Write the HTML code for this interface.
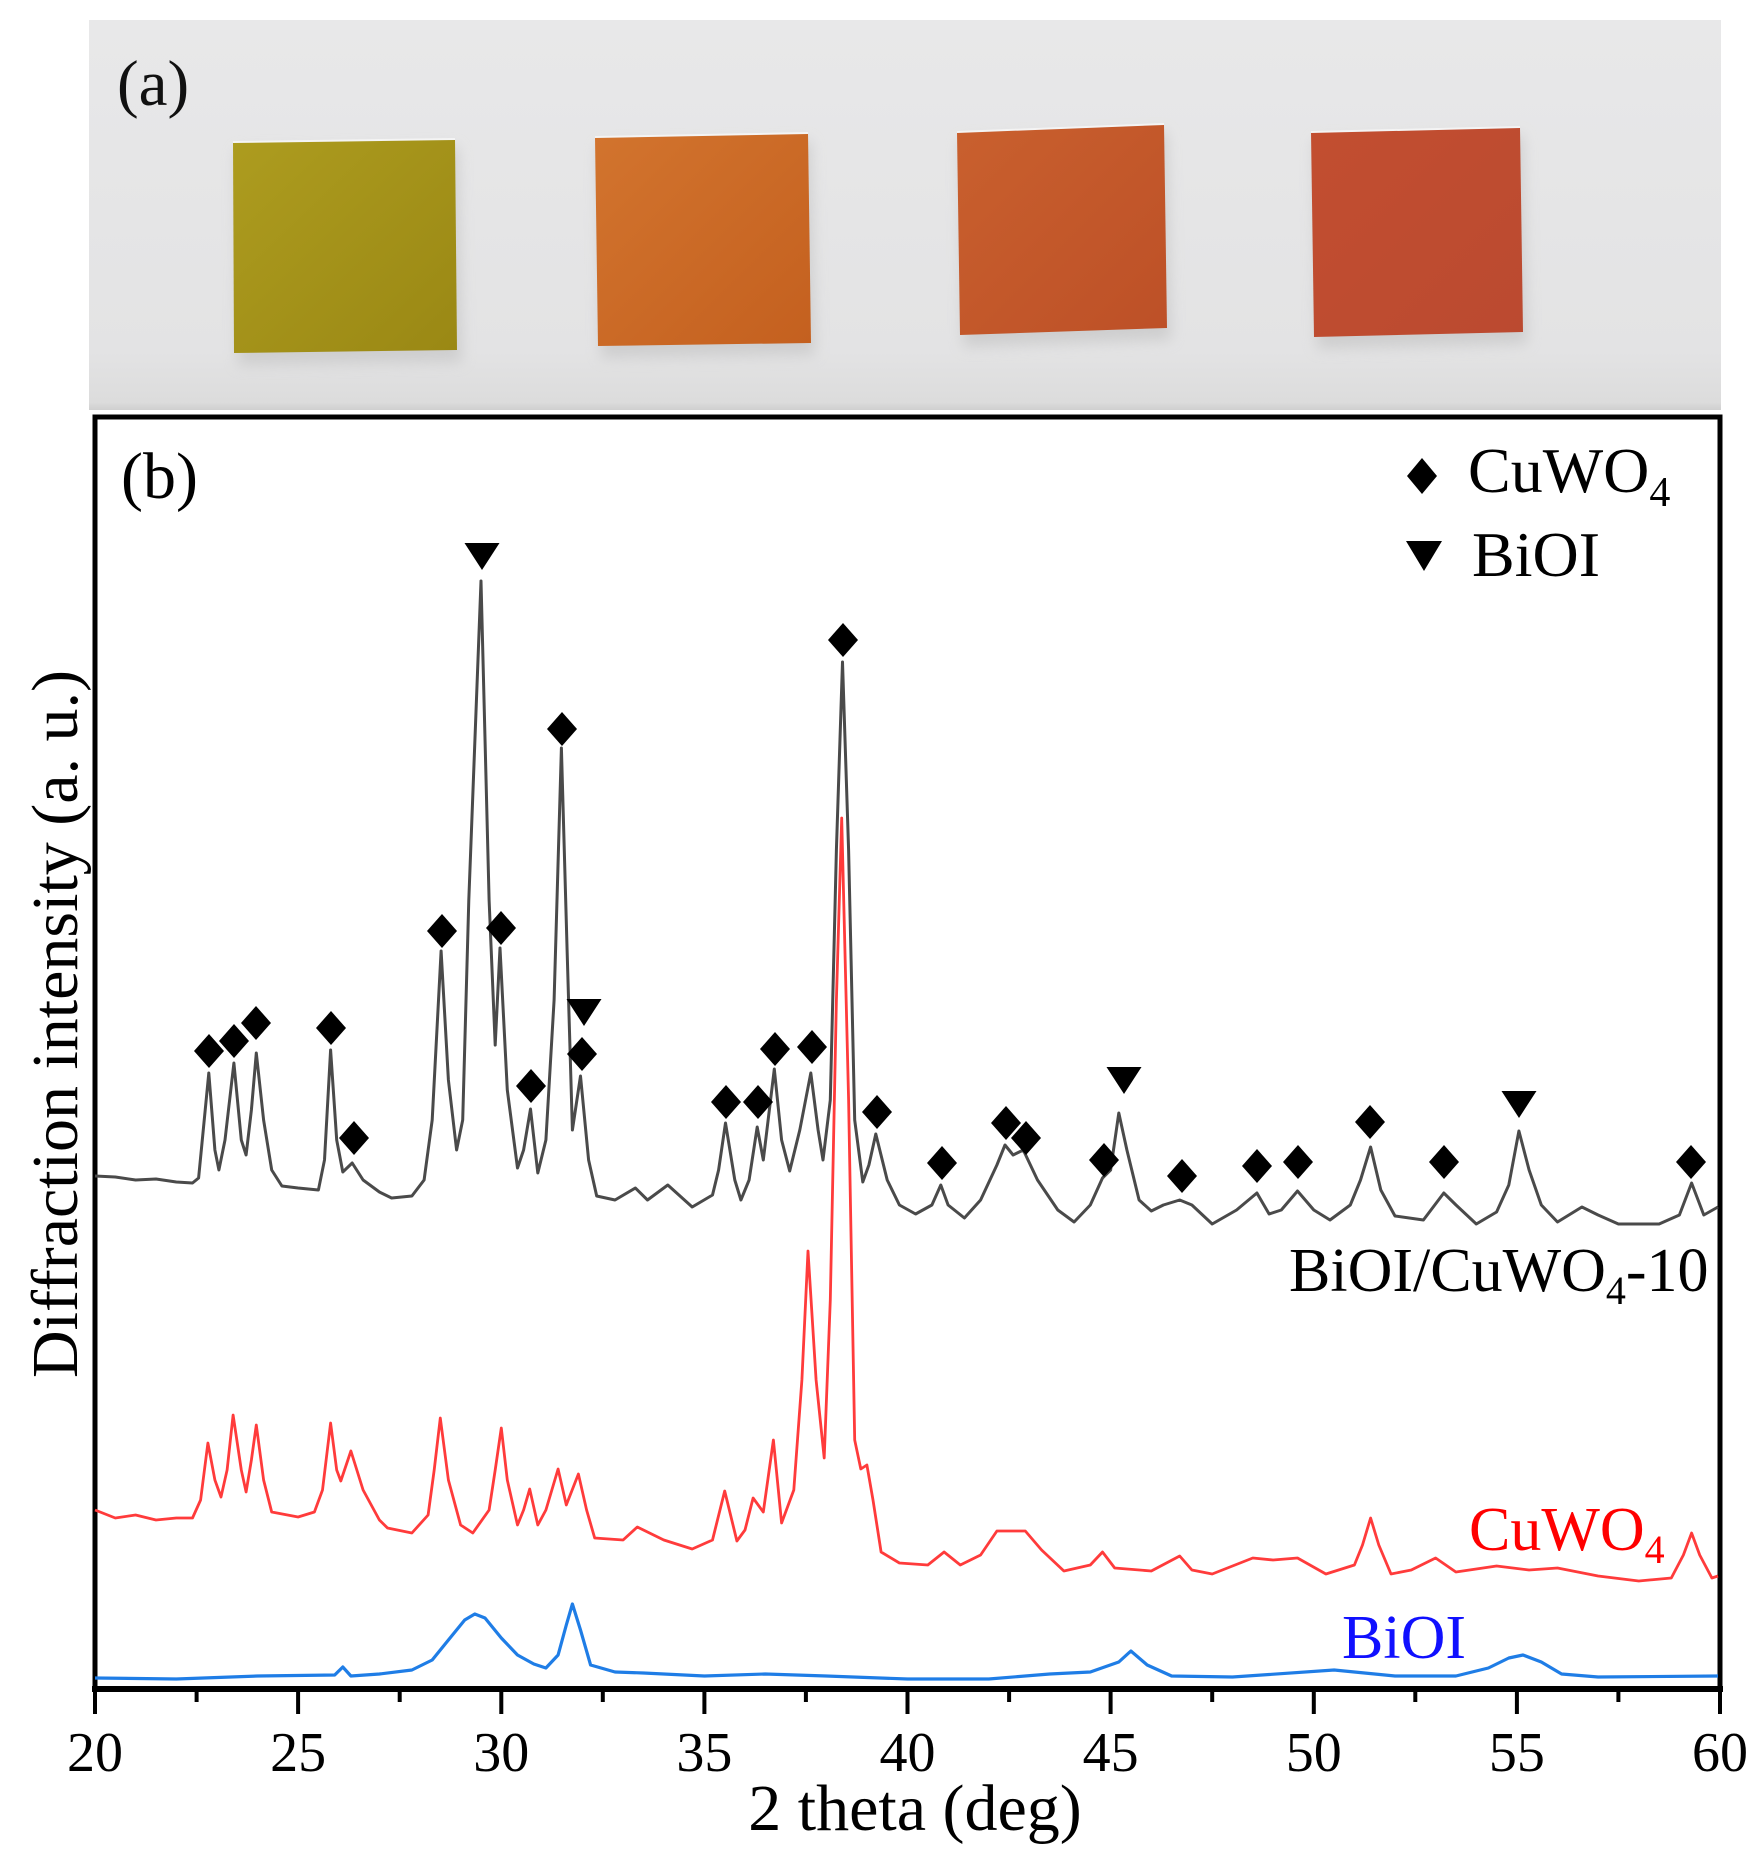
<!DOCTYPE html>
<html><head><meta charset="utf-8"><style>html,body{margin:0;padding:0;background:#fff;width:1762px;height:1859px;overflow:hidden}</style></head>
<body>
<svg width="1762" height="1859" viewBox="0 0 1762 1859" xmlns="http://www.w3.org/2000/svg" font-family="'Liberation Serif','Times New Roman',serif">
<defs>
<linearGradient id="bg" x1="0" y1="0" x2="0" y2="1">
<stop offset="0" stop-color="#e8e8e9"/><stop offset="0.85" stop-color="#e3e3e4"/><stop offset="0.98" stop-color="#dcdcdc"/><stop offset="1" stop-color="#cfcfcf"/>
</linearGradient>
<linearGradient id="t1" x1="0" y1="0" x2="1" y2="1"><stop offset="0" stop-color="#ad9c1f"/><stop offset="1" stop-color="#9a8814"/></linearGradient>
<linearGradient id="t2" x1="0" y1="0" x2="1" y2="1"><stop offset="0" stop-color="#d2742e"/><stop offset="1" stop-color="#c4601f"/></linearGradient>
<linearGradient id="t3" x1="0" y1="0" x2="1" y2="1"><stop offset="0" stop-color="#c9602e"/><stop offset="1" stop-color="#bd5027"/></linearGradient>
<linearGradient id="t4" x1="0" y1="0" x2="1" y2="1"><stop offset="0" stop-color="#c24e30"/><stop offset="1" stop-color="#bb4a30"/></linearGradient>
<filter id="sh" x="-20%" y="-20%" width="140%" height="140%"><feGaussianBlur stdDeviation="7"/></filter>
</defs>

<!-- Panel (a) photo -->
<rect x="89" y="20" width="1632" height="390" fill="url(#bg)"/>
<g filter="url(#sh)" fill="#bdbdbd" opacity="0.55">
<polygon points="236,150 458,147 462,362 238,365"/>
<polygon points="598,145 811,141 815,355 601,358"/>
<polygon points="960,140 1167,132 1171,340 963,347"/>
<polygon points="1314,140 1523,135 1527,344 1317,349"/>
</g>
<polygon points="233,142 455,139 457,350 234,353" fill="url(#t1)"/>
<polygon points="595,137 808,133 811,343 598,346" fill="url(#t2)"/>
<polygon points="957,132 1164,124 1167,328 960,335" fill="url(#t3)"/>
<polygon points="1311,132 1520,127 1523,332 1314,337" fill="url(#t4)"/>
<g stroke="#f4f4f4" stroke-width="2" fill="none">
<line x1="233" y1="142" x2="455" y2="139"/>
<line x1="595" y1="137" x2="808" y2="133"/>
<line x1="957" y1="132" x2="1164" y2="124"/>
<line x1="1311" y1="132" x2="1520" y2="127"/>
</g>
<text x="117" y="105" font-size="65" fill="#111">(a)</text>

<!-- Panel (b) frame -->
<rect x="95" y="417" width="1625" height="1272" fill="#fff" stroke="#000" stroke-width="5"/>
<line x1="92" y1="1689" x2="1723" y2="1689" stroke="#000" stroke-width="6"/>

<!-- ticks -->
<g stroke="#000" stroke-width="4">
<line x1="95" y1="1689" x2="95" y2="1714"/>
<line x1="298.1" y1="1689" x2="298.1" y2="1714"/>
<line x1="501.3" y1="1689" x2="501.3" y2="1714"/>
<line x1="704.4" y1="1689" x2="704.4" y2="1714"/>
<line x1="907.5" y1="1689" x2="907.5" y2="1714"/>
<line x1="1110.6" y1="1689" x2="1110.6" y2="1714"/>
<line x1="1313.8" y1="1689" x2="1313.8" y2="1714"/>
<line x1="1516.9" y1="1689" x2="1516.9" y2="1714"/>
<line x1="1720" y1="1689" x2="1720" y2="1714"/>
<line x1="196.6" y1="1689" x2="196.6" y2="1702"/>
<line x1="399.7" y1="1689" x2="399.7" y2="1702"/>
<line x1="602.8" y1="1689" x2="602.8" y2="1702"/>
<line x1="805.9" y1="1689" x2="805.9" y2="1702"/>
<line x1="1009.1" y1="1689" x2="1009.1" y2="1702"/>
<line x1="1212.2" y1="1689" x2="1212.2" y2="1702"/>
<line x1="1415.3" y1="1689" x2="1415.3" y2="1702"/>
<line x1="1618.4" y1="1689" x2="1618.4" y2="1702"/>
</g>
<g font-size="56" text-anchor="middle" fill="#000">
<text x="95" y="1771">20</text>
<text x="298.1" y="1771">25</text>
<text x="501.3" y="1771">30</text>
<text x="704.4" y="1771">35</text>
<text x="907.5" y="1771">40</text>
<text x="1110.6" y="1771">45</text>
<text x="1313.8" y="1771">50</text>
<text x="1516.9" y="1771">55</text>
<text x="1720" y="1771">60</text>
</g>
<text x="915" y="1830" text-anchor="middle" font-size="66" fill="#000">2 theta (deg)</text>
<text transform="translate(77,1024) rotate(-90)" text-anchor="middle" font-size="66" fill="#000">Diffraction intensity (a. u.)</text>

<!-- curves -->
<polyline fill="none" stroke="#1f7de6" stroke-width="3.2" stroke-linejoin="round" points="95,1678 176.3,1679 257.5,1676 334.7,1675 342.8,1667 350.9,1676 379.4,1674 411.9,1670 432.2,1660 448.4,1640 464.7,1620 474.8,1614 485,1618 501.3,1638 517.5,1655 533.8,1664 545.9,1668 558.1,1655 566.3,1625 572.4,1604 580.5,1630 590.6,1665 615,1672 643.4,1673 704.4,1676 765.3,1674 826.3,1676 907.5,1679 988.8,1679 1049.7,1674 1090.3,1672 1118.8,1662 1130.9,1651 1147.2,1665 1171.6,1676 1232.5,1677 1334.1,1670 1395,1676 1455.9,1676 1488.4,1668 1508.8,1658 1523,1655 1541.3,1662 1561.6,1674 1598.1,1677 1718,1676"/>

<polyline fill="none" stroke="#ff3b3b" stroke-width="2.8" stroke-linejoin="round" points="95,1510 115.3,1518 135.6,1515 156,1520 176.3,1518 192.5,1518 200.6,1500 207.9,1443 214.9,1480 221,1497 227.1,1470 233.1,1415 241.3,1470 246.1,1492 251.4,1460 256.3,1425 263.6,1480 271.7,1512 298.1,1517 314.4,1512 322.5,1490 330.6,1423 336.7,1470 340.8,1481 350.9,1451 363.1,1490 379.4,1520 387.5,1528 411.9,1533 428.1,1515 434.2,1470 440.3,1418 448.4,1480 460.6,1525 472.8,1533 489.1,1510 495.2,1470 501.3,1428 507.3,1480 517.5,1525 523.6,1510 529.7,1489 537.8,1525 545.9,1510 558.1,1469 566.3,1505 578.4,1474 586.6,1510 594.7,1538 623.1,1540 637.3,1527 663.8,1540 692.2,1549 712.5,1540 724.7,1491 736.9,1541 745,1530 753.1,1498 763.3,1512 773.4,1440 781.6,1523 793.8,1490 801.9,1380 808,1251 816.1,1380 824.2,1458 830.3,1300 836.4,1000 841.7,818 848.6,1100 854.7,1440 860.8,1469 866.9,1465 873,1500 881.1,1552 899.4,1563 927.8,1565 944.1,1552 960.3,1565 980.6,1555 996.9,1531 1025.3,1531 1041.6,1550 1063.9,1571 1090.3,1565 1102.5,1552 1114.7,1568 1151.3,1571 1179.7,1556 1191.9,1570 1212.2,1574 1252.8,1558 1273.1,1560 1297.5,1558 1325.9,1574 1354.4,1565 1362.5,1545 1370.6,1518 1378.8,1545 1391,1574 1411.3,1570 1435.6,1558 1455.9,1572 1496.6,1566 1529.1,1570 1557.5,1568 1598.1,1576 1638.8,1581 1671.3,1578 1683.4,1555 1691.6,1533 1699.7,1555 1711.9,1578 1718,1576"/>

<polyline fill="none" stroke="#4a4a4a" stroke-width="3" stroke-linejoin="round" points="95,1176 115.3,1177 135.6,1180 156,1179 176.3,1182 192.5,1183 198.6,1178 208.8,1073 214.9,1150 218.9,1170 225,1140 233.9,1063 241.3,1140 246.1,1155 251.4,1110 256.3,1053 263.6,1120 271.7,1170 281.9,1186 298.1,1188 318.4,1190 324.5,1160 330.6,1050 336.7,1140 342.8,1172 352.2,1163 363.1,1180 379.4,1192 391.6,1198 411.9,1196 424.1,1180 432.2,1120 441.1,951 448.4,1080 456.6,1150 462.7,1120 468.8,900 481,581 489.1,900 495.2,1045 500,948 507.3,1090 517.5,1168 523.6,1150 530.5,1109 537.8,1173 545.9,1140 554.1,1000 561.4,748 567.1,950 572.4,1130 580.5,1076 588.6,1160 596.7,1196 615,1200 635.3,1188 647.5,1200 667.8,1185 692.2,1207 712.5,1195 718.6,1170 725.5,1123 734.8,1180 740.9,1200 749.1,1180 757.2,1127 763.3,1160 774.3,1069 781.6,1140 789.7,1171 799.8,1130 810.8,1073 818.1,1130 823,1160 830.3,1100 836.4,850 842.5,662 848.6,850 854.7,1120 862.8,1182 868.9,1165 875.8,1134 887.2,1180 899.4,1205 915.6,1214 931.9,1205 940.8,1185 948.1,1205 964.4,1218 980.6,1200 996.9,1165 1005,1145 1013.1,1155 1023.3,1150 1037.5,1180 1057.8,1210 1074.1,1222 1090.3,1205 1102.5,1178 1110.6,1170 1118.8,1113 1126.9,1150 1139.1,1200 1151.3,1211 1163.4,1205 1179.7,1200 1191.9,1205 1212.2,1224 1236.6,1210 1256.9,1193 1269.1,1214 1281.3,1210 1297.5,1191 1313.8,1210 1330,1220 1350.3,1205 1360.5,1180 1370.6,1147 1380.8,1190 1395,1216 1423.4,1220 1443.8,1193 1456,1205 1476.3,1224 1496.6,1212 1508.8,1185 1518.9,1131 1529.1,1170 1541.3,1205 1557.5,1222 1581.9,1207 1598.1,1215 1618.4,1224 1659.1,1224 1679.4,1215 1691.6,1183 1703.8,1215 1718,1207"/>

<!-- markers -->
<g fill="#000">
<path d="M209,1034L224,1051L209,1068L194,1051Z"/>
<path d="M234,1024L249,1041L234,1058L219,1041Z"/>
<path d="M256,1006L271,1023L256,1040L241,1023Z"/>
<path d="M331,1011L346,1028L331,1045L316,1028Z"/>
<path d="M354,1121L369,1138L354,1155L339,1138Z"/>
<path d="M442,914L457,931L442,948L427,931Z"/>
<path d="M501,911L516,928L501,945L486,928Z"/>
<path d="M531,1069L546,1086L531,1103L516,1086Z"/>
<path d="M562,712L577,729L562,746L547,729Z"/>
<path d="M582,1037L597,1054L582,1071L567,1054Z"/>
<path d="M726,1085L741,1102L726,1119L711,1102Z"/>
<path d="M758,1085L773,1102L758,1119L743,1102Z"/>
<path d="M775,1032L790,1049L775,1066L760,1049Z"/>
<path d="M812,1030L827,1047L812,1064L797,1047Z"/>
<path d="M843,623L858,640L843,657L828,640Z"/>
<path d="M877,1095L892,1112L877,1129L862,1112Z"/>
<path d="M942,1146L957,1163L942,1180L927,1163Z"/>
<path d="M1006,1106L1021,1123L1006,1140L991,1123Z"/>
<path d="M1026,1121L1041,1138L1026,1155L1011,1138Z"/>
<path d="M1104,1143L1119,1160L1104,1177L1089,1160Z"/>
<path d="M1182,1159L1197,1176L1182,1193L1167,1176Z"/>
<path d="M1257,1149L1272,1166L1257,1183L1242,1166Z"/>
<path d="M1298,1145L1313,1162L1298,1179L1283,1162Z"/>
<path d="M1370,1105L1385,1122L1370,1139L1355,1122Z"/>
<path d="M1444,1145L1459,1162L1444,1179L1429,1162Z"/>
<path d="M1691,1145L1706,1162L1691,1179L1676,1162Z"/>
<path d="M464.5,543L499.5,543L482,570Z"/>
<path d="M566.5,999L601.5,999L584,1026Z"/>
<path d="M1106.5,1067L1141.5,1067L1124,1094Z"/>
<path d="M1501.5,1091L1536.5,1091L1519,1118Z"/>
<!-- legend markers -->
<path d="M1422,458L1437,476L1422,494L1407,476Z"/>
<path d="M1406,541L1442,541L1424,571Z"/>
</g>

<!-- legend -->
<text x="1468" y="492" font-size="64" fill="#000">CuWO<tspan font-size="42" dy="14">4</tspan></text>
<text x="1472" y="576" font-size="64" fill="#000">BiOI</text>
<text x="121" y="498" font-size="66" fill="#000">(b)</text>

<!-- series labels -->
<text x="1289" y="1291" font-size="62" fill="#000">BiOI/CuWO<tspan font-size="40" dy="13">4</tspan><tspan dy="-13">-10</tspan></text>
<text x="1469" y="1550" font-size="62" fill="#ff0000">CuWO<tspan font-size="40" dy="13">4</tspan></text>
<text x="1342" y="1658" font-size="62" fill="#1010ff">BiOI</text>
</svg>
</body></html>
